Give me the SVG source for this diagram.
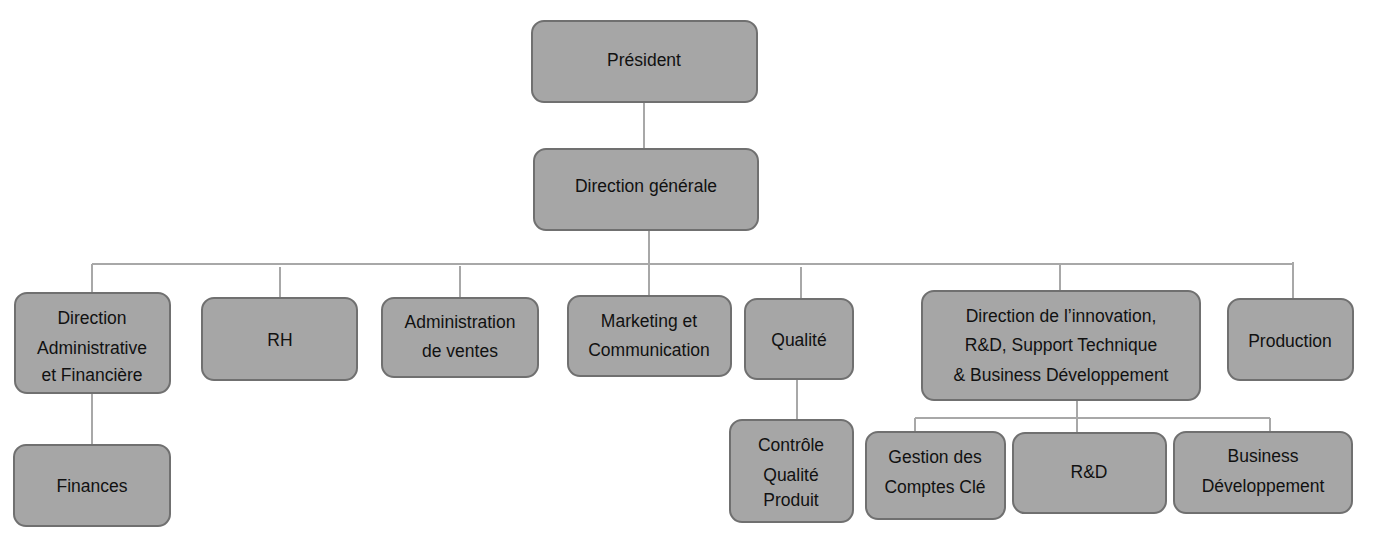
<svg xmlns="http://www.w3.org/2000/svg" width="1380" height="554" viewBox="0 0 1380 554">
<style>
.box{fill:#a6a6a6;stroke:#707070;stroke-width:2}
.t{font-family:"Liberation Sans",Arial,sans-serif;font-size:17.5px;fill:#111;text-anchor:middle}
.c{stroke:#a8a8a8;stroke-width:2;fill:none}
</style>
<rect width="1380" height="554" fill="#fff"/>
<g id="connectors">
<path class="c" d="M644 102V149"/>
<path class="c" d="M649 230V264"/>
<path class="c" d="M92 264H1293"/>
<path class="c" d="M92 264V293"/>
<path class="c" d="M280 267V298"/>
<path class="c" d="M460 266V298"/>
<path class="c" d="M649 264V296"/>
<path class="c" d="M801 267V299"/>
<path class="c" d="M1060 264V291"/>
<path class="c" d="M1293 262V299"/>
<path class="c" d="M92 393V445"/>
<path class="c" d="M797 379V420"/>
<path class="c" d="M1077 400V432"/>
<path class="c" d="M915 418H1270"/>
<path class="c" d="M915 418V432"/>
<path class="c" d="M1270 418V432"/>
</g>
<g id="president"><rect class="box" x="532" y="21" width="225" height="81" rx="12"/><text class="t" x="644" y="66">Président</text></g>
<g id="direction-generale"><rect class="box" x="534" y="149" width="224" height="81" rx="12"/><text class="t" x="646" y="192">Direction générale</text></g>
<g id="daf"><rect class="box" x="15" y="293" width="155" height="100" rx="12"/><text class="t" x="92" y="324">Direction</text><text class="t" x="92" y="354">Administrative</text><text class="t" x="92" y="381">et Financière</text></g>
<g id="rh"><rect class="box" x="202" y="298" width="155" height="82" rx="12"/><text class="t" x="280" y="346">RH</text></g>
<g id="admin-ventes"><rect class="box" x="382" y="298" width="156" height="79" rx="12"/><text class="t" x="460" y="328">Administration</text><text class="t" x="460" y="357">de ventes</text></g>
<g id="marketing"><rect class="box" x="568" y="296" width="163" height="80" rx="12"/><text class="t" x="649" y="327">Marketing et</text><text class="t" x="649" y="356">Communication</text></g>
<g id="qualite"><rect class="box" x="745" y="299" width="108" height="80" rx="12"/><text class="t" x="799" y="346">Qualité</text></g>
<g id="innovation"><rect class="box" x="922" y="291" width="278" height="109" rx="12"/><text class="t" x="1061" y="322">Direction de l’innovation,</text><text class="t" x="1061" y="351">R&amp;D, Support Technique</text><text class="t" x="1061" y="381">&amp; Business Développement</text></g>
<g id="production"><rect class="box" x="1228" y="299" width="125" height="81" rx="12"/><text class="t" x="1290" y="347">Production</text></g>
<g id="finances"><rect class="box" x="14" y="445" width="156" height="81" rx="12"/><text class="t" x="92" y="492">Finances</text></g>
<g id="controle"><rect class="box" x="730" y="420" width="123" height="102" rx="12"/><text class="t" x="791" y="451">Contrôle</text><text class="t" x="791" y="481">Qualité</text><text class="t" x="791" y="506">Produit</text></g>
<g id="gestion"><rect class="box" x="866" y="432" width="139" height="87" rx="12"/><text class="t" x="935" y="463">Gestion des</text><text class="t" x="935" y="493">Comptes Clé</text></g>
<g id="rd"><rect class="box" x="1013" y="433" width="153" height="80" rx="12"/><text class="t" x="1089" y="478">R&amp;D</text></g>
<g id="business"><rect class="box" x="1174" y="432" width="178" height="81" rx="12"/><text class="t" x="1263" y="462">Business</text><text class="t" x="1263" y="492">Développement</text></g>
</svg>
